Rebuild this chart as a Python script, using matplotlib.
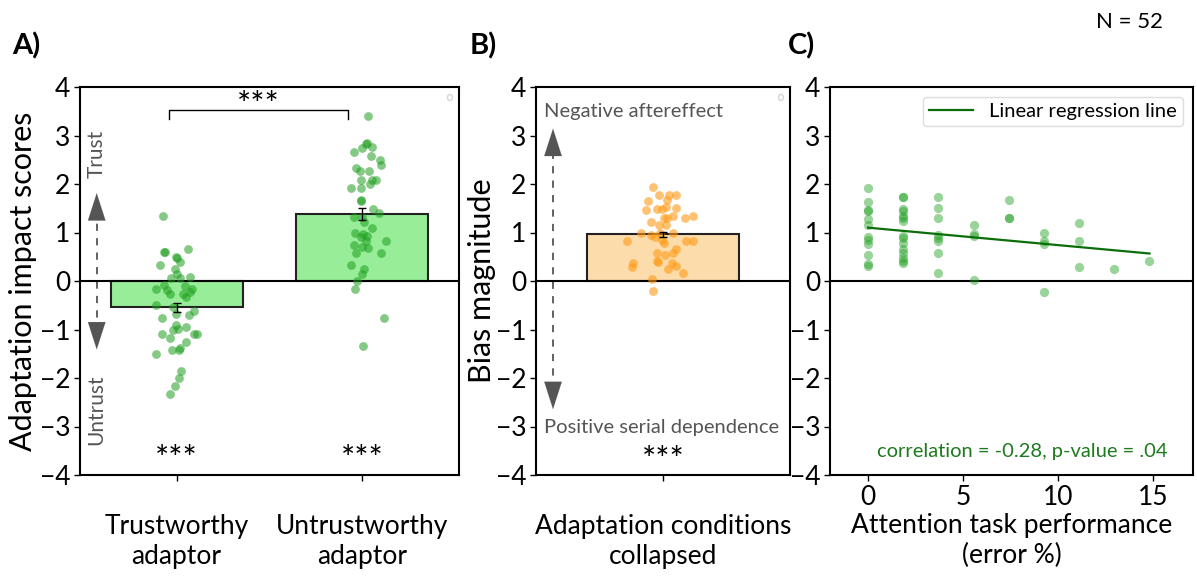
import numpy as np
import matplotlib
matplotlib.use("Agg")
import matplotlib.pyplot as plt

plt.rcParams['font.family'] = ['Lato', 'DejaVu Sans']

# ---- data ----
# A) adaptation impact scores (jitter offsets around the category)
trust_vals = [1.33, 0.59, 0.59, 0.50, 0.48, 0.66, 0.33, 0.40, 0.24, 0.15, 0.07, 0.07, 0.08,
              -0.08, -0.17, -0.19, -0.10, -0.17, -0.22, -0.26, -0.34, -0.26, -0.50, -0.54,
              -0.61, -0.69, -0.76, -0.70, -0.90, -1.00, -0.98, -0.95, -1.09, -1.09, -1.09,
              -1.17, -1.26, -1.38, -1.50, -1.43, -1.43, -1.85, -2.01, -2.17, -2.34]
trust_jit = [-0.073, -0.069, -0.062, -0.005, 0.002, 0.060, -0.090, 0.016, -0.011, 0.002, -0.028,
             0.016, 0.074, -0.069, -0.112, -0.050, 0.046, 0.083, 0.073, -0.034, 0.051, 0.037,
             -0.112, -0.020, 0.092, -0.002, -0.076, 0.066, -0.002, -0.020, 0.007, 0.051, -0.076,
             0.108, 0.096, -0.034, 0.048, 0.016, -0.112, -0.023, 0.012, 0.025, 0.012, -0.011, -0.037]
untrust_vals = [3.41, 2.83, 2.85, 2.74, 2.67, 2.76, 2.57, 2.50, 2.40, 2.32, 2.26, 2.26, 2.08,
                2.08, 2.08, 1.99, 1.92, 1.92, 1.67, 1.64, 1.48, 1.41, 1.31, 1.31, 1.21, 1.09,
                1.00, 0.97, 0.92, 0.90, 0.83, 0.83, 0.74, 0.70, 0.69, 0.57, 0.57, 0.33, 0.24,
                0.15, 0.00, -0.17, -0.76, -1.34]
untrust_jit = [0.030, 0.020, 0.023, 0.0, -0.044, 0.053, 0.044, 0.094, 0.098, -0.035, -0.012,
               0.035, -0.009, 0.053, 0.071, 0.041, -0.059, -0.009, -0.009, -0.005, 0.059, 0.089,
               0.0, -0.044, 0.009, 0.053, -0.041, 0.005, 0.027, -0.009, 0.018, 0.129, -0.044,
               0.0, 0.030, 0.101, -0.035, -0.062, 0.009, 0.0, -0.030, -0.041, 0.115, 0.002]
cond_labels = ["Trustworthy\nadaptor", "Untrustworthy\nadaptor"]
cond_means = [-0.54, 1.38]
cond_sems = [0.09, 0.12]

# B) bias magnitude, conditions collapsed
bias_vals = [1.93, 1.65, 1.77, 1.77, 1.77, 1.68, 1.47, 1.48, 1.48, 1.53, 1.51, 1.30, 1.30,
             1.33, 1.30, 1.33, 1.21, 1.16, 1.16, 1.00, 0.95, 1.00, 1.00, 0.90, 0.84, 0.83,
             0.83, 0.83, 0.78, 0.58, 0.53, 0.66, 0.58, 0.42, 0.40, 0.37, 0.29, 0.37, 0.30,
             0.25, 0.16, 0.04, -0.21]
bias_jit = [-0.038, -0.058, -0.014, 0.025, 0.051, 0.014, -0.068, -0.025, -0.005, 0.012, 0.051,
            0.004, 0.017, 0.041, 0.087, 0.119, -0.049, -0.014, 0.012, -0.088, -0.049, -0.012,
            0.041, -0.031, -0.005, -0.143, 0.091, 0.119, 0.004, -0.025, 0.008, 0.051, 0.041,
            -0.022, -0.020, -0.117, -0.123, 0.034, 0.051, 0.021, 0.077, -0.045, -0.041]
bias_mean = 0.96
bias_sem = 0.06

# C) bias vs attention task error
err_pct = ([0.0] * 12 + [1.85] * 15 + [3.70] * 8 + [5.56] * 4 + [7.41] * 3
           + [9.26] * 4 + [11.11] * 3 + [12.96] + [14.81])
err_bias = [1.92, 1.62, 1.46, 1.45, 1.28, 1.16, 0.90, 0.84, 0.77, 0.54, 0.36, 0.30,
            1.74, 1.74, 1.48, 1.45, 1.34, 1.30, 1.24, 0.93, 0.88, 0.79, 0.66, 0.57, 0.48, 0.41, 0.38,
            1.74, 1.50, 1.29, 0.95, 0.88, 0.83, 0.58, 0.16,
            1.16, 0.97, 0.92, 0.03,
            1.67, 1.29, 1.29,
            1.00, 0.83, 0.77, -0.22,
            1.20, 0.83, 0.29,
            0.24,
            0.41]
reg_intercept = 1.10
reg_slope = -0.036

fig = plt.figure(figsize=(11.97, 5.79), dpi=100)
W, H = 1197, 579


def box(l, r, t, b):
    return [l / W, 1 - b / H, (r - l) / W, (b - t) / H]


axA = fig.add_axes(box(80, 459, 87, 475))
axB = fig.add_axes(box(536, 790, 87, 475))
axC = fig.add_axes(box(830, 1193, 87, 475))

gray = '#555555'
tick_fs = 19
head = dict(arrowstyle='-|>,head_length=1.4,head_width=0.45', color=gray, lw=0.1,
            mutation_scale=14)

for ax in (axA, axB, axC):
    ax.set_ylim(-4, 4)
    ax.set_yticks(range(-4, 5))
    ax.tick_params(labelsize=tick_fs, length=4, width=1, pad=3)
    ax.axhline(0, color='black', lw=1.5, zorder=3)
    for s in ax.spines.values():
        s.set_linewidth(1.5)

# ---- A ----
axA.set_xlim(-0.52, 1.52)
axA.bar([0, 1], cond_means, width=0.71, color='#98ee98', edgecolor='#222222', lw=1.5, zorder=2)
axA.errorbar([0, 1], cond_means, yerr=cond_sems, fmt='none', ecolor='black', elinewidth=1,
             capsize=3, zorder=5)
axA.scatter(np.array(trust_jit), trust_vals, s=40, color='#1f9e1f', alpha=0.55, lw=0, zorder=4)
axA.scatter(1 + np.array(untrust_jit), untrust_vals, s=40, color='#1f9e1f', alpha=0.55, lw=0, zorder=4)
axA.set_xticks([0, 1])
axA.set_xticklabels(cond_labels, fontsize=19, linespacing=1.25)
axA.tick_params(axis='x', pad=24)
axA.set_ylabel("Adaptation impact scores", fontsize=22, labelpad=2)
# significance bracket
axA.plot([-0.04, -0.04, 0.92, 0.92], [3.35, 3.53, 3.53, 3.35], color='black', lw=1)
axA.text(0.44, 3.6, "***", ha='center', va='center', fontsize=24)
for i in (0, 1):
    axA.text(i, -3.7, "***", ha='center', va='center', fontsize=24)
# trust / untrust arrow
xa = -0.43
axA.plot([xa, xa], [-1.05, 1.45], ls=(0, (4, 4)), color=gray, lw=1.3)
axA.annotate('', xy=(xa, 1.87), xytext=(xa, 1.40), arrowprops=head)
axA.annotate('', xy=(xa, -1.47), xytext=(xa, -1.0), arrowprops=head)
axA.text(xa, 2.62, "Trust", rotation=90, ha='center', va='center', fontsize=15, color=gray)
axA.text(xa, -2.65, "Untrust", rotation=90, ha='center', va='center', fontsize=15, color=gray)
axA.legend(handles=[], loc='upper right', borderpad=0.2, framealpha=0.8)

# ---- B ----
axB.set_xlim(-0.5, 0.5)
axB.bar([0], [bias_mean], width=0.6, color='#fddcac', edgecolor='#222222', lw=1.5, zorder=2)
axB.errorbar([0], [bias_mean], yerr=[bias_sem], fmt='none', ecolor='black', elinewidth=1,
             capsize=3, zorder=5)
axB.scatter(np.array(bias_jit), bias_vals, s=40, color='#ff9a14', alpha=0.6, lw=0, zorder=4)
axB.set_xticks([0])
axB.set_xticklabels([''])
axB.set_xlabel("Adaptation conditions\ncollapsed", fontsize=19, labelpad=21, linespacing=1.25)
axB.set_ylabel("Bias magnitude", fontsize=22, labelpad=0)
xb = -0.433
axB.plot([xb, xb], [-2.25, 2.75], ls=(0, (4, 4)), color=gray, lw=1.3)
axB.annotate('', xy=(xb, 3.2), xytext=(xb, 2.7), arrowprops=head)
axB.annotate('', xy=(xb, -2.7), xytext=(xb, -2.2), arrowprops=head)
axB.text(-0.47, 3.5, "Negative aftereffect", ha='left', va='center', fontsize=14.5, color=gray)
axB.text(-0.47, -3.02, "Positive serial dependence", ha='left', va='center', fontsize=14.5,
         color=gray)
axB.text(0, -3.72, "***", ha='center', va='center', fontsize=24)
axB.legend(handles=[], loc='upper right', borderpad=0.2, framealpha=0.8)

# ---- C ----
axC.set_xlim(-2, 17.1)
axC.scatter(err_pct, err_bias, s=44, color='#22a022', alpha=0.45, lw=0, zorder=4)
xr = np.array([min(err_pct), max(err_pct)])
axC.plot(xr, reg_intercept + reg_slope * xr, color='#0b6e0b', lw=1.6, zorder=5,
         label="Linear regression line")
axC.set_xticks([0, 5, 10, 15])
axC.set_xlabel("Attention task performance\n(error %)", fontsize=19, labelpad=2, linespacing=1.25)
axC.legend(loc='upper right', fontsize=14.5, handlelength=2.2, borderpad=0.3,
           edgecolor='#dddddd', framealpha=1)
axC.text(8.1, -3.52, "correlation = -0.28, p-value = .04", ha='center', va='center',
         fontsize=14.5, color='#1e7a1e')

fig.text(12 / W, 1 - 46 / H, "A)", fontsize=21, fontweight='bold', va='center')
fig.text(470 / W, 1 - 46 / H, "B)", fontsize=21, fontweight='bold', va='center')
fig.text(788 / W, 1 - 46 / H, "C)", fontsize=21, fontweight='bold', va='center')
fig.text(1130 / W, 1 - 22 / H, "N = 52", fontsize=16, ha='center', va='center')

fig.savefig("out.png", dpi=100)
